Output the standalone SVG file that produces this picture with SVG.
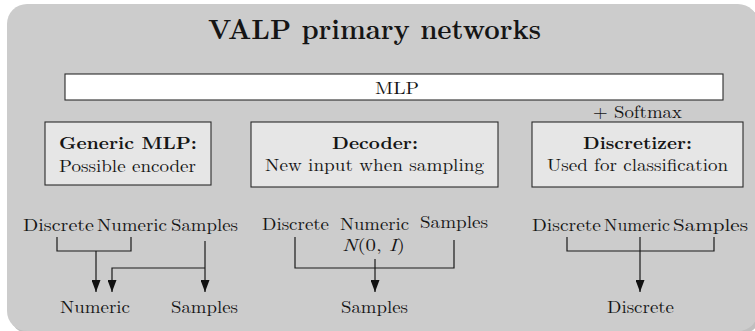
<svg xmlns="http://www.w3.org/2000/svg" width="755" height="331" viewBox="0 0 755 331">
  <style>
    text { font-family: "Latin Modern Roman", "CMU Serif", "Liberation Serif", "DejaVu Serif", "Times New Roman", serif; fill: #151515; }
    .title { font-size: 28px; font-weight: bold; }
    .lbl { font-size: 17px; }
    .head { font-size: 17px; font-weight: bold; }
    .box { fill: #e6e6e6; stroke: #2a2a2a; stroke-width: 1.1; }
    .bar { fill: #ffffff; stroke: #2a2a2a; stroke-width: 1.1; }
    .wire { fill: none; stroke: #1a1a1a; stroke-width: 1.2; }
  </style>
  <defs>
    <marker id="tip" viewBox="0 0 12 9" refX="12" refY="4.5" markerWidth="12" markerHeight="9" markerUnits="userSpaceOnUse" orient="auto">
      <path d="M0,0 L12,4.5 L0,9 z" fill="#111"/>
    </marker>
  </defs>

  <!-- panel background with a soft drop shadow -->
  <rect x="10" y="7" width="751" height="327" rx="20" fill="#8a8a8a" opacity="0.55"/>
  <rect x="7" y="4" width="751" height="327" rx="20" fill="#cccccc"/>

  <text class="title" x="208" y="39" textLength="333" lengthAdjust="spacingAndGlyphs">VALP primary networks</text>

  <g id="mlp-bar">
    <rect class="bar" x="65" y="74" width="658" height="26"/>
    <text class="lbl" x="375" y="94" textLength="44" lengthAdjust="spacingAndGlyphs">MLP</text>
  </g>

  <text class="lbl" x="593" y="118" textLength="89" lengthAdjust="spacingAndGlyphs">+ Softmax</text>

  <g id="generic-mlp">
    <rect class="box" x="45" y="122" width="166" height="63"/>
    <text class="head" x="59" y="149" textLength="138" lengthAdjust="spacingAndGlyphs">Generic MLP:</text>
    <text class="lbl" x="59" y="172" textLength="137" lengthAdjust="spacingAndGlyphs">Possible encoder</text>
  </g>

  <g id="decoder">
    <rect class="box" x="251" y="122" width="247" height="65"/>
    <text class="head" x="332" y="149" textLength="86" lengthAdjust="spacingAndGlyphs">Decoder:</text>
    <text class="lbl" x="265" y="171" textLength="219" lengthAdjust="spacingAndGlyphs">New input when sampling</text>
  </g>

  <g id="discretizer">
    <rect class="box" x="532" y="122" width="211" height="65"/>
    <text class="head" x="583" y="149" textLength="109" lengthAdjust="spacingAndGlyphs">Discretizer:</text>
    <text class="lbl" x="547" y="171" textLength="181" lengthAdjust="spacingAndGlyphs">Used for classification</text>
  </g>

  <!-- generic MLP inputs and outputs -->
  <g id="generic-io">
    <text class="lbl" x="23" y="231" textLength="71" lengthAdjust="spacingAndGlyphs">Discrete</text>
    <text class="lbl" x="97" y="231" textLength="70" lengthAdjust="spacingAndGlyphs">Numeric</text>
    <text class="lbl" x="171" y="231" textLength="67" lengthAdjust="spacingAndGlyphs">Samples</text>
    <text class="lbl" x="60" y="313" textLength="70" lengthAdjust="spacingAndGlyphs">Numeric</text>
    <text class="lbl" x="171" y="313" textLength="67" lengthAdjust="spacingAndGlyphs">Samples</text>
  </g>

  <!-- decoder inputs and output -->
  <g id="decoder-io">
    <text class="lbl" x="262" y="230" textLength="67" lengthAdjust="spacingAndGlyphs">Discrete</text>
    <text class="lbl" x="340" y="230" textLength="69" lengthAdjust="spacingAndGlyphs">Numeric</text>
    <text class="lbl" x="420" y="228" textLength="68" lengthAdjust="spacingAndGlyphs">Samples</text>
    <text class="lbl" x="342" y="251" textLength="63" lengthAdjust="spacingAndGlyphs"><tspan font-style="italic">N</tspan>(0, <tspan font-style="italic">I</tspan>)</text>
    <text class="lbl" x="341" y="313" textLength="67" lengthAdjust="spacingAndGlyphs">Samples</text>
  </g>

  <!-- discretizer inputs and output -->
  <g id="discretizer-io">
    <text class="lbl" x="532" y="231" textLength="69" lengthAdjust="spacingAndGlyphs">Discrete</text>
    <text class="lbl" x="604" y="231" textLength="66" lengthAdjust="spacingAndGlyphs">Numeric</text>
    <text class="lbl" x="673" y="231" textLength="75" lengthAdjust="spacingAndGlyphs">Samples</text>
    <text class="lbl" x="607" y="313" textLength="67" lengthAdjust="spacingAndGlyphs">Discrete</text>
  </g>

  <g id="connectors">
    <!-- generic MLP -->
    <path class="wire" d="M57,237 V251 H131 V237"/>
    <path class="wire" d="M96,251 V292" marker-end="url(#tip)"/>
    <path class="wire" d="M205,241 V292" marker-end="url(#tip)"/>
    <path class="wire" d="M205,268 H112 V292" marker-end="url(#tip)"/>
    <!-- decoder -->
    <path class="wire" d="M295,237 V268 H454 V240"/>
    <path class="wire" d="M375,259 V292" marker-end="url(#tip)"/>
    <!-- discretizer -->
    <path class="wire" d="M567,237 V251 H714 V237"/>
    <path class="wire" d="M640,237 V292" marker-end="url(#tip)"/>
  </g>
</svg>
